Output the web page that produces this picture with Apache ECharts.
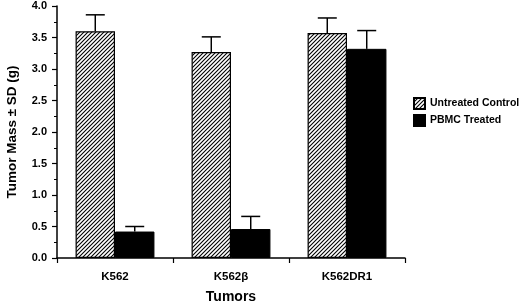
<!DOCTYPE html>
<html>
<head>
<meta charset="utf-8">
<script src="https://cdn.jsdelivr.net/npm/echarts@6/dist/echarts.min.js"></script>
<style>
  html, body { margin: 0; padding: 0; background: #fff; }
  #chart { width: 520px; height: 304px; }
</style>
</head>
<body>
<div id="chart"></div>
<script>
const categories = ['K562', 'K562\u03b2', 'K562DR1']
const untreated = [3.60, 3.27, 3.57]
const untreatedSD = [0.26, 0.24, 0.24]
const treated = [0.42, 0.46, 3.32]
const treatedSD = [0.08, 0.20, 0.29]
const seriesNames = ['Untreated Control', 'PBMC Treated']

const FONT = '"Liberation Sans", Arial, sans-serif'
const BAR_FRAC = 0.34

// hatch pattern for the control bars
function makeHatch() {
  let c = document.createElement('canvas')
  c.width = 4
  c.height = 4
  let ctx = c.getContext('2d')
  ctx.fillStyle = '#fff'
  ctx.fillRect(0, 0, 4, 4)
  ctx.strokeStyle = '#000'
  ctx.lineWidth = 1.1
  ctx.beginPath()
  ctx.moveTo(0, 4)
  ctx.lineTo(4, 0)
  ctx.moveTo(-1, 1)
  ctx.lineTo(1, -1)
  ctx.moveTo(3, 5)
  ctx.lineTo(5, 3)
  ctx.stroke()
  return c
}
const hatch = { image: makeHatch(), repeat: 'repeat' }

// error bar data: [category, value, value + sd, side]
let errData = []
for (let i = 0; i < categories.length; i++) {
  errData.push([i, untreated[i], untreated[i] + untreatedSD[i], -1])
  errData.push([i, treated[i], treated[i] + treatedSD[i], 1])
}

function renderErr(params, api) {
  let cat = api.value(0)
  let lo = api.coord([cat, api.value(1)])
  let hi = api.coord([cat, api.value(2)])
  let w = api.size([1, 0])[0] * BAR_FRAC
  let x = lo[0] + api.value(3) * w / 2
  let cap = 9.5
  return {
    type: 'group',
    children: [
      { type: 'line', shape: { x1: x, y1: lo[1], x2: x, y2: hi[1] }, style: { stroke: '#000', lineWidth: 1.5 } },
      { type: 'line', shape: { x1: x - cap, y1: hi[1], x2: x + cap, y2: hi[1] }, style: { stroke: '#000', lineWidth: 1.5 } }
    ]
  }
}

let chart = echarts.init(document.getElementById('chart'))
let option = {
  animation: false,
  backgroundColor: '#fff',
  grid: { left: 57, right: 115, top: 6, bottom: 46, outerBoundsMode: 'none', containLabel: false },
  legend: {
    data: seriesNames,
    icon: 'rect',
    orient: 'vertical',
    left: 408,
    top: 92,
    itemWidth: 11,
    itemHeight: 11,
    itemGap: 4,
    textStyle: { fontFamily: FONT, fontWeight: 'bold', fontSize: 10.5, lineHeight: 11, color: '#000' }
  },
  xAxis: {
    type: 'category',
    data: categories,
    name: 'Tumors',
    nameLocation: 'middle',
    nameGap: 32,
    nameTextStyle: { fontFamily: FONT, fontWeight: 'bold', fontSize: 14, color: '#000' },
    axisLine: { lineStyle: { color: '#000', width: 1.5 } },
    axisTick: { show: true, inside: false, length: 5, lineStyle: { color: '#000', width: 1.2 } },
    axisLabel: { fontFamily: FONT, fontWeight: 'bold', fontSize: 11.5, color: '#000', margin: 13 }
  },
  yAxis: {
    type: 'value',
    min: 0,
    max: 4,
    interval: 0.5,
    name: 'Tumor Mass \u00b1 SD (g)',
    nameLocation: 'middle',
    nameGap: 38,
    nameTextStyle: { fontFamily: FONT, fontWeight: 'bold', fontSize: 13.5, color: '#000' },
    axisLine: { show: true, lineStyle: { color: '#000', width: 1.5 } },
    axisTick: { show: true, inside: false, length: 5, lineStyle: { color: '#000', width: 1.2 } },
    minorTick: { show: true, splitNumber: 2, length: 3, lineStyle: { color: '#000', width: 1 } },
    splitLine: { show: false },
    axisLabel: {
      fontFamily: FONT, fontWeight: 'bold', fontSize: 11, color: '#000', margin: 10,
      formatter: v => v.toFixed(1)
    }
  },
  series: [
    {
      name: seriesNames[0],
      type: 'bar',
      data: untreated,
      barWidth: (BAR_FRAC * 100) + '%',
      barGap: '0%',
      itemStyle: { color: hatch, borderColor: '#000', borderWidth: 1.2 }
    },
    {
      name: seriesNames[1],
      type: 'bar',
      data: treated,
      barWidth: (BAR_FRAC * 100) + '%',
      barGap: '0%',
      itemStyle: { color: '#000', borderColor: '#000', borderWidth: 1 }
    },
    {
      type: 'custom',
      renderItem: renderErr,
      data: errData,
      z: 5,
      silent: true
    }
  ]
}
chart.setOption(option)
window.onresize = function () {
  chart.resize()
}
</script>
</body>
</html>
